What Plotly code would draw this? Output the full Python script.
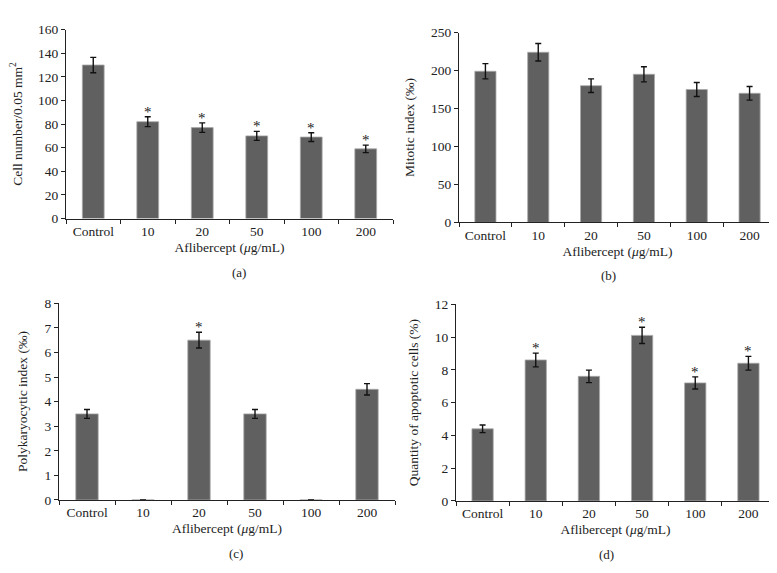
import plotly.graph_objects as go

categories = ["Control", "10", "20", "50", "100", "200"]

cell_number = [130, 82, 77, 70, 69, 59]
cell_number_err = [6.5, 4.2, 4, 3.8, 3.7, 3.2]
cell_number_star = [False, True, True, True, True, True]

mitotic = [199, 224, 180, 195, 175, 170]
mitotic_err = [10, 11.5, 9, 10, 9.3, 9]
mitotic_star = [False] * 6

polykaryocytic = [3.5, 0, 6.5, 3.5, 0, 4.5]
polykaryocytic_err = [0.18, 0, 0.32, 0.18, 0, 0.23]
polykaryocytic_star = [False, False, True, False, False, False]

apoptotic = [4.4, 8.6, 7.6, 10.1, 7.2, 8.4]
apoptotic_err = [0.23, 0.42, 0.38, 0.5, 0.37, 0.42]
apoptotic_star = [False, True, False, True, True, True]

panels = [
    dict(y=cell_number, e=cell_number_err, s=cell_number_star, rng=[0, 160], dt=20,
         ytitle="Cell number/0.05 mm<sup>2</sup>", cap="(a)",
         xd=[58, 385], yd=[15, 209]),
    dict(y=mitotic, e=mitotic_err, s=mitotic_star, rng=[0, 250], dt=50,
         ytitle="Mitotic index (‰)", cap="(b)",
         xd=[451, 768], yd=[18, 213]),
    dict(y=polykaryocytic, e=polykaryocytic_err, s=polykaryocytic_star, rng=[0, 8], dt=1,
         ytitle="Polykaryocytic index (‰)", cap="(c)",
         xd=[51, 387], yd=[296, 498]),
    dict(y=apoptotic, e=apoptotic_err, s=apoptotic_star, rng=[0, 12], dt=2,
         ytitle="Quantity of apoptotic cells (%)", cap="(d)",
         xd=[448, 767], yd=[297, 499]),
]

W, H = 777, 573
FONT = "Liberation Serif, Times New Roman, serif"
fig = go.Figure()
annotations = []
layout = {}

for i, p in enumerate(panels):
    n = "" if i == 0 else str(i + 1)
    xa, ya = "x" + n, "y" + n
    fig.add_trace(go.Bar(
        x=categories, y=p["y"], xaxis=xa, yaxis=ya,
        marker=dict(color="#606060", line=dict(color="#a8a8a8", width=0.8)),
        width=0.4,
        error_y=dict(type="data", array=p["e"], visible=True, color="#111111",
                     thickness=1.4, width=3),
        showlegend=False, hoverinfo="skip",
    ))
    for j, (v, e, s) in enumerate(zip(p["y"], p["e"], p["s"])):
        if s:
            annotations.append(dict(x=j, y=v + e, xref=xa, yref=ya, text="*",
                                    showarrow=False, yanchor="bottom", yshift=-5,
                                    font=dict(family=FONT, size=15, color="#222")))
    x0, x1 = p["xd"]
    y0, y1 = p["yd"]
    layout["xaxis" + n] = dict(
        domain=[x0 / W, x1 / W], anchor=ya, type="category",
        range=[-0.5, 5.5], showline=True, linecolor="#222", linewidth=1,
        ticks="outside", tickson="boundaries", ticklen=4, tickcolor="#222",
        showgrid=False, zeroline=False,
        tickfont=dict(family=FONT, size=13.5, color="#222"),
        title=dict(text="Aflibercept (<i>μ</i>g/mL)", standoff=4,
                   font=dict(family=FONT, size=13.5, color="#222")),
        fixedrange=True,
    )
    layout["yaxis" + n] = dict(
        domain=[1 - y1 / H, 1 - y0 / H], anchor=xa,
        range=p["rng"], dtick=p["dt"], showline=True, linecolor="#222", linewidth=1,
        ticks="outside", ticklen=4, tickcolor="#222", showgrid=False, zeroline=False,
        tickfont=dict(family=FONT, size=13.5, color="#222"),
        title=dict(text=p["ytitle"], standoff=13,
                   font=dict(family=FONT, size=13.5, color="#222")),
        fixedrange=True,
    )
    annotations.append(dict(x=(x0 + x1) / 2 / W, y=1 - (y1 + 55) / H, xref="paper", yref="paper",
                            text=p["cap"], showarrow=False, yanchor="middle",
                            font=dict(family=FONT, size=13, color="#222")))

fig.update_layout(
    width=W, height=H, margin=dict(l=0, r=0, t=0, b=0),
    paper_bgcolor="white", plot_bgcolor="white",
    annotations=annotations, **layout,
)
fig.write_html("out.html")
